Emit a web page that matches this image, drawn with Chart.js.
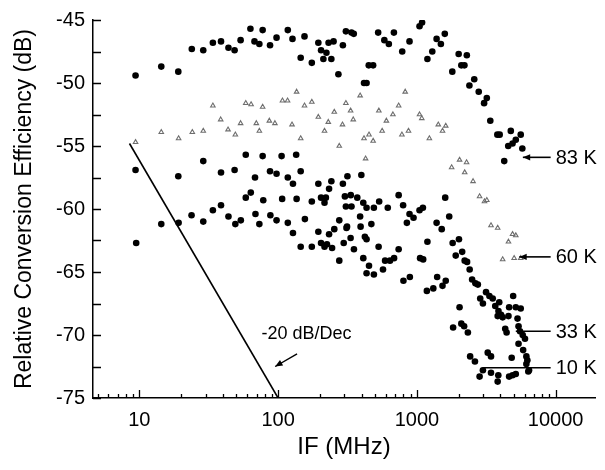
<!DOCTYPE html>
<html>
<head>
<meta charset="utf-8">
<script src="https://cdn.jsdelivr.net/npm/chart.js@4"></script>
<style>
  body { margin: 0; background: #fff; }
  canvas { display: block; }
</style>
</head>
<body>
<canvas id="ifChart" width="605" height="470"></canvas>
<script>
// IF frequency (MHz) and relative conversion efficiency (dB)
const if83 = [9.4, 14.4, 19.1, 23.9, 28.9, 33.9, 38.8, 43.9, 48.6, 53.7, 63.2, 67.6, 73.3, 77.4, 87.5, 97.5, 117.5, 127, 145.5, 155,
    175, 195, 204, 223, 212, 231, 251, 242, 272, 293, 308, 338, 351, 526, 583, 628, 683, 784, 885, 1045,
    1090, 1191, 1291, 1387, 1489, 1589, 450, 484, 416, 434, 1800, 2000, 2290, 2090, 2200, 2390, 2590, 2790, 3050, 3190,
    3380, 3800, 3950, 4750, 5600, 5160, 4890, 4550, 5750, 4260];
const db83 = [-49.4, -48.7, -49.1, -47.3, -47.4, -46.8, -46.7, -47.2, -47.4, -46.6, -45.7, -46.7, -46.9, -45.8, -47.0, -46.4, -45.8, -46.5, -48.0, -46.3,
    -48.4, -46.8, -47.4, -47.6, -48.1, -46.8, -46.7, -48.1, -49.3, -47.0, -45.9, -46.0, -46.1, -46.0, -46.6, -46.9, -46.0, -47.5, -46.7, -45.5,
    -45.2, -48.1, -47.5, -46.5, -46.9, -46.1, -48.6, -48.6, -50.0, -50.0, -49.1, -47.7, -47.8, -48.6, -48.6, -50.2, -49.7, -50.7, -51.6, -51.2,
    -53.0, -54.1, -54.1, -53.8, -54.1, -54.5, -54.8, -55.0, -55.2, -56.2];

const if60 = [9.4, 14.4, 19.2, 24.1, 28.9, 33.9, 38.6, 43.6, 49.2, 53.7, 58.5, 63.9, 69.7, 73.3, 77.4, 86.5, 94.9, 107.5, 117, 126,
    136, 145.5, 155, 175, 195, 216, 230, 254, 276, 291, 308, 390, 333, 348, 416, 452, 484, 562, 603, 672,
    739, 824, 532, 780, 870, 1045, 1085, 1230, 1426, 1614, 1530, 427, 1780, 2030, 2280, 2210, 2540, 2830, 3070, 3190,
    3420, 3820, 4890, 5160, 4570, 4150, 5020, 5600];
const db60 = [-54.7, -53.9, -54.4, -53.9, -53.8, -51.8, -52.9, -53.7, -54.1, -53.2, -51.6, -51.7, -53.2, -53.8, -51.9, -53.0, -53.2, -51.4, -51.4, -53.3,
    -50.7, -54.4, -51.8, -51.5, -52.7, -53.8, -53.1, -52.3, -55.0, -53.3, -51.6, -51.0, -52.2, -52.9, -54.4, -54.1, -54.6, -53.8, -53.0, -52.5,
    -51.8, -50.7, -52.2, -54.1, -53.8, -52.5, -52.8, -54.4, -53.3, -53.4, -53.8, -56.0, -56.7, -56.1, -56.3, -57.1, -57.8, -59.0, -59.4, -59.3,
    -61.3, -61.5, -62.0, -62.1, -62.6, -64.0, -63.9, -63.9];

const if33 = [9.4, 19.1, 28.9, 38.8, 48.6, 58.5, 68.2, 77.4, 87.5, 97.5, 106, 117.5, 128, 135, 145.5, 195, 233, 242, 293, 316,
    398, 58.5, 63.6, 78.2, 107, 136, 175, 204, 221, 216, 303, 308, 334, 372, 411, 434, 490, 535, 739, 796,
    617, 38.8, 338, 1105, 1045, 1600, 1387, 1510, 1710, 1810, 2010, 1905, 2120, 2210, 2300, 2400, 2500, 2640, 2750, 3150,
    3330, 2860, 3520, 4940, 3920, 2990, 4620, 5160, 5600, 3870, 4040, 3820, 4150, 4570, 5310, 3670, 4330, 4430, 5400, 5530,
    5790, 6010];
const db33 = [-56.9, -57.4, -56.2, -57.1, -56.9, -55.7, -57.5, -55.8, -57.0, -57.2, -55.8, -57.5, -58.0, -55.7, -57.0, -58.0, -58.4, -57.8, -58.0, -57.4,
    -57.3, -59.1, -58.7, -59.3, -59.2, -59.2, -59.4, -59.1, -59.1, -59.5, -59.0, -59.8, -58.9, -59.1, -59.5, -59.9, -59.9, -59.4, -58.9, -59.7,
    -59.9, -59.7, -59.8, -59.9, -60.1, -59.1, -61.1, -61.6, -60.6, -62.7, -62.4, -63.7, -63.4, -64.1, -64.2, -64.8, -65.6, -65.9, -66.0, -66.6,
    -66.9, -67.1, -67.1, -66.9, -67.4, -67.5, -67.8, -67.8, -67.9, -68.1, -68.4, -68.5, -68.6, -68.5, -68.7, -67.7, -69.5, -69.8, -69.3, -69.7,
    -70.0, -70.3];

const if10 = [9.5, 14.4, 19.2, 23.8, 28.9, 33.9, 43.9, 49.2, 53.9, 68.7, 73.3, 88, 97.5, 117.5, 128, 145.5, 156, 175, 195, 204,
    216, 225, 233, 245, 254, 276, 276, 297, 311, 390, 314, 393, 470, 885, 946, 847, 333, 434, 422, 352,
    530, 739, 411, 590, 640, 685, 452, 570, 434, 490, 1055, 1110, 1191, 800, 890, 1400, 1614, 1530, 1180, 1313,
    2030, 1824, 2090, 2190, 2330, 5400, 5830, 6150, 6250, 6150, 2420, 2620, 3240, 3420, 4820, 6430, 6350, 2990, 3420, 2830,
    3860, 4620, 4890, 5160, 3820];
const db10 = [-62.7, -61.2, -61.1, -60.5, -61.0, -60.1, -60.6, -61.2, -60.9, -60.4, -61.2, -60.5, -60.9, -61.1, -61.9, -63.0, -60.8, -63.0, -61.8, -62.7,
    -63.0, -62.8, -62.0, -63.1, -61.6, -60.9, -64.1, -62.7, -61.5, -60.6, -61.4, -61.4, -61.2, -60.4, -60.7, -61.1, -62.3, -62.4, -62.2, -63.2,
    -63.0, -63.2, -63.9, -64.1, -64.1, -63.9, -64.5, -64.8, -65.1, -65.2, -63.9, -64.0, -62.6, -65.7, -65.4, -65.4, -65.7, -66.1, -66.5, -66.3,
    -67.8, -69.4, -69.1, -69.3, -69.8, -70.7, -71.2, -71.7, -72.0, -72.3, -71.7, -72.1, -71.4, -71.7, -71.8, -72.8, -72.9, -72.8, -73.0, -73.3,
    -73.2, -73.3, -73.2, -73.1, -73.7];

// -20 dB/decade reference line
const slopeIF = [8.5, 100];
const slopeDb = [-54.8, -75];

// temperature labels on the right
const tempNames = ['83 K', '60 K', '33 K', '10 K'];
const tempDb = [-55.9, -63.8, -69.7, -72.6];
const tempFromIF = [5800, 5470, 5160, 3000];
const tempArrow = [true, true, false, false];

const xMin = 4.64, xMax = 19200;
const yMin = -75, yMax = -45;
const fontFamily = "'Liberation Sans', Arial, Helvetica, sans-serif";

const toPoints = (xs, ys) => xs.map((v, i) => ({ x: v, y: ys[i] }));

function arrowHead(ctx, x0, y0, x1, y1, size) {
    // filled head at (x1, y1), pointing away from (x0, y0)
    const a = Math.atan2(y1 - y0, x1 - x0);
    ctx.beginPath();
    ctx.moveTo(x1, y1);
    ctx.lineTo(x1 - size * Math.cos(a - 0.4), y1 - size * Math.sin(a - 0.4));
    ctx.lineTo(x1 - size * Math.cos(a + 0.4), y1 - size * Math.sin(a + 0.4));
    ctx.closePath();
    ctx.fill();
}

// inward tick marks plus the text annotations
const figurePlugin = {
    id: 'figureExtras',
    afterDraw(chart) {
        const { ctx, chartArea, scales: { x, y } } = chart;
        ctx.save();
        ctx.strokeStyle = '#000';
        ctx.fillStyle = '#000';
        ctx.lineWidth = 1.3;

        ctx.beginPath();
        for (let v = yMin; v <= yMax; v += 2.5) {
            const py = Math.round(y.getPixelForValue(v)) + 0.5;
            ctx.moveTo(chartArea.left, py);
            ctx.lineTo(chartArea.left + 8, py);
        }
        for (let e = 0; e <= 4; e++) {
            for (let m = 1; m <= 9; m++) {
                const v = m * Math.pow(10, e);
                if (v < xMin || v > xMax) continue;
                const px = Math.round(x.getPixelForValue(v)) + 0.5;
                ctx.moveTo(px, chartArea.bottom);
                ctx.lineTo(px, chartArea.bottom - (m === 1 ? 8 : 4));
            }
        }
        ctx.stroke();

        // temperature labels
        ctx.font = '20px ' + fontFamily;
        ctx.textBaseline = 'middle';
        ctx.textAlign = 'left';
        tempNames.forEach((name, i) => {
            const py = y.getPixelForValue(tempDb[i]);
            const x0 = x.getPixelForValue(tempFromIF[i]);
            const x1 = x.getPixelForValue(9200);
            ctx.lineWidth = 1.6;
            ctx.beginPath();
            ctx.moveTo(x1, py);
            ctx.lineTo(x0, py);
            ctx.stroke();
            if (tempArrow[i]) arrowHead(ctx, x1, py, x0, py, 8);
            ctx.fillText(name, x1 + 5, py + 1);
        });

        // slope label and its arrow
        ctx.font = '18px ' + fontFamily;
        ctx.fillText('-20 dB/Dec', x.getPixelForValue(76), y.getPixelForValue(-69.9));
        const ax0 = x.getPixelForValue(137), ay0 = y.getPixelForValue(-71.5);
        const ax1 = x.getPixelForValue(95.3), ay1 = y.getPixelForValue(-72.5);
        ctx.lineWidth = 1.4;
        ctx.beginPath();
        ctx.moveTo(ax0, ay0);
        ctx.lineTo(ax1, ay1);
        ctx.stroke();
        arrowHead(ctx, ax0, ay0, ax1, ay1, 8);
        ctx.restore();
    }
};

const dotStyle = {
    type: 'scatter',
    pointStyle: 'circle',
    pointRadius: 3.3,
    pointBackgroundColor: '#000',
    pointBorderColor: '#000',
    pointBorderWidth: 0
};

new Chart(document.getElementById('ifChart'), {
    type: 'scatter',
    data: {
        datasets: [
            { ...dotStyle, label: '83 K', data: toPoints(if83, db83) },
            {
                type: 'scatter', label: '60 K', data: toPoints(if60, db60),
                pointStyle: 'triangle', pointRadius: 2.6,
                pointBackgroundColor: 'rgba(0,0,0,0)', pointBorderColor: '#6e6e6e', pointBorderWidth: 1.1
            },
            { ...dotStyle, label: '33 K', data: toPoints(if33, db33) },
            { ...dotStyle, label: '10 K', data: toPoints(if10, db10) },
            {
                type: 'line', label: '-20 dB/Dec', data: toPoints(slopeIF, slopeDb),
                borderColor: '#000', borderWidth: 1.6, pointRadius: 0, fill: false
            }
        ]
    },
    options: {
        responsive: false,
        animation: false,
        layout: { padding: { top: 13, right: 5, left: 0, bottom: 0 } },
        plugins: { legend: { display: false }, tooltip: { enabled: false } },
        font: { family: fontFamily },
        scales: {
            x: {
                type: 'logarithmic',
                min: xMin,
                max: xMax,
                afterFit: scale => { scale.height = 72; },
                grid: { display: false, drawTicks: false },
                border: { display: true, color: '#000', width: 1.5 },
                ticks: {
                    autoSkip: false,
                    maxRotation: 0,
                    padding: 10,
                    color: '#000',
                    font: { family: fontFamily, size: 20 },
                    callback: v => {
                        const l = Math.log10(v);
                        return Math.abs(l - Math.round(l)) < 1e-6 ? String(Math.round(v)) : '';
                    }
                },
                title: {
                    display: true,
                    text: 'IF (MHz)',
                    color: '#000',
                    font: { family: fontFamily, size: 24 },
                    padding: { top: 0, bottom: 8 }
                }
            },
            y: {
                min: yMin,
                max: yMax,
                afterFit: scale => { scale.width = 93; },
                grid: { display: false, drawTicks: false },
                border: { display: true, color: '#000', width: 1.5 },
                ticks: {
                    stepSize: 5,
                    padding: 8,
                    color: '#000',
                    font: { family: fontFamily, size: 20 }
                },
                title: {
                    display: true,
                    text: 'Relative Conversion Efficiency (dB)',
                    color: '#000',
                    font: { family: fontFamily, size: 23 },
                    padding: { top: 11, bottom: 0 }
                }
            }
        }
    },
    plugins: [figurePlugin]
});
</script>
</body>
</html>
